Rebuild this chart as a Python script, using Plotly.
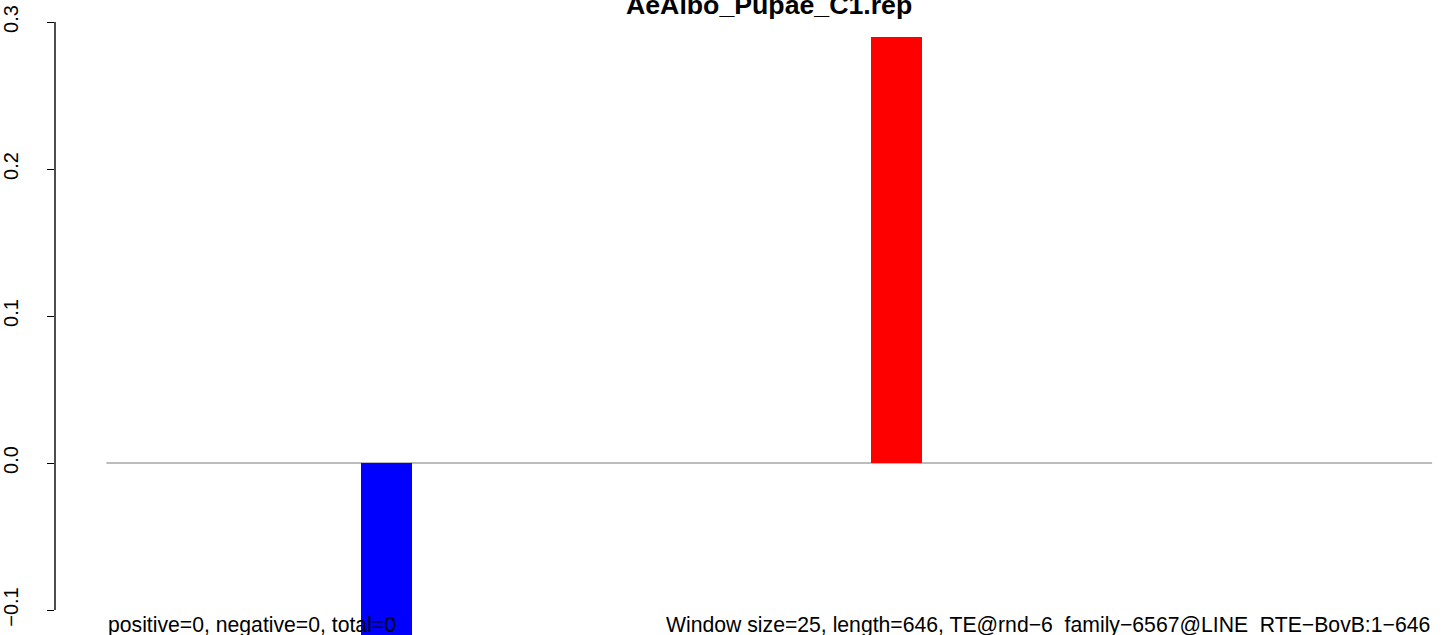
import plotly.graph_objects as go

# ---- data ----
window_starts = [125, 375]          # bp, start of windows with non-zero values
window_size = 25
values = [-0.13, 0.29]
bar_colors = ["#0000FF", "#FF0000"]
seq_length = 650
ytick_vals = [-0.1, 0.0, 0.1, 0.2, 0.3]
ytick_text = ["\u22120.1", "0.0", "0.1", "0.2", "0.3"]
title_text = "AeAlbo_Pupae_C1.rep"
left_note = "positive=0, negative=0, total=0"
right_note = "Window size=25, length=646, TE@rnd\u22126_family\u22126567@LINE_RTE\u2212BovB:1\u2212646"

FONT = "Liberation Sans, Arial, Helvetica, sans-serif"

centers = [s + window_size / 2 for s in window_starts]

fig = go.Figure()
fig.add_trace(go.Bar(
    x=centers, y=values, width=[window_size] * len(values),
    marker=dict(color=bar_colors, line=dict(width=0)),
    showlegend=False, hoverinfo="x+y",
))

# zero line
fig.add_shape(type="line", xref="x", yref="y", x0=0, x1=seq_length, y0=0, y1=0,
              line=dict(color="#7a7a7a", width=1.2), layer="below")
# R-style y axis line spanning first to last tick
fig.add_shape(type="line", xref="paper", yref="y", x0=0, x1=0,
              y0=ytick_vals[0], y1=ytick_vals[-1],
              line=dict(color="black", width=1.4), layer="above")

fig.add_annotation(x=seq_length / 2, y=0.3116, xref="x", yref="y", text="<b>" + title_text + "</b>",
                   showarrow=False, xanchor="center", yanchor="middle",
                   font=dict(family=FONT, size=26.7, color="black"))
fig.add_annotation(x=0, y=-0.1102, xref="x", yref="y", text=left_note,
                   showarrow=False, xanchor="left", yanchor="middle",
                   font=dict(family=FONT, size=21.2, color="black"))
fig.add_annotation(x=seq_length, y=-0.1102, xref="x", yref="y", text=right_note,
                   showarrow=False, xanchor="right", yanchor="middle",
                   font=dict(family=FONT, size=21.2, color="black"))

fig.update_layout(
    width=1452, height=635,
    margin=dict(l=52, r=0, t=0, b=0),
    paper_bgcolor="white", plot_bgcolor="white",
    bargap=0,
    xaxis=dict(range=[-25.196, 659.74], visible=False, showgrid=False, zeroline=False),
    yaxis=dict(range=[-0.11701, 0.31497], showgrid=False, zeroline=False, showline=False,
               tickmode="array", tickvals=ytick_vals, ticktext=ytick_text,
               ticks="outside", ticklen=7, tickwidth=1.4, tickcolor="black",
               tickangle=-90, ticklabelstandoff=21,
               tickfont=dict(family=FONT, size=20, color="black")),
    font=dict(family=FONT),
)

fig.write_html("out.html", config={"displayModeBar": False},
               post_script="document.body.style.margin='0';document.body.style.overflow='hidden';")
